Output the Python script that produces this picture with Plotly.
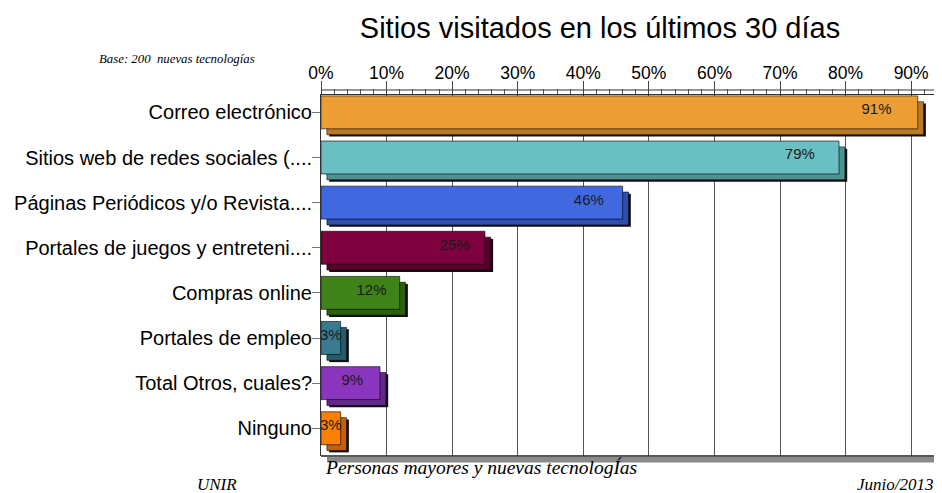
import plotly.graph_objects as go

# ── datos ──
categorias = [
    "Correo electrónico",
    "Sitios web de redes sociales (....",
    "Páginas Periódicos y/o Revista....",
    "Portales de juegos y entreteni....",
    "Compras online",
    "Portales de empleo",
    "Total Otros, cuales?",
    "Ninguno",
]
porcentajes = [91, 79, 46, 25, 12, 3, 9, 3]
colores = ["#EC9E35", "#69BFC1", "#4069E0", "#7F003F",
           "#3F8219", "#387A90", "#8A35BD", "#FF8000"]
colores_lado = ["#B87A28", "#4D9193", "#2E4FAD", "#58002B",
                "#2D5F11", "#275A6B", "#65268C", "#C46100"]
ticks_x = [0, 10, 20, 30, 40, 50, 60, 70, 80, 90]

SANS = "Liberation Sans, Arial, sans-serif"
SERIF = "Liberation Serif, Times New Roman, serif"

# la página tiene ~8px de margen en el body
W, H = 934, 485
L, T, PW, PH = 313, 87, 619, 361

pos = list(range(len(categorias)))
ANCHO = 0.73
OFF = -0.48
DX, DY = 0.9, 0.13        # profundidad 3D
SX, SY = 1.25, 0.17       # sombra negra
centro = [p + OFF + ANCHO / 2 for p in pos]   # centro de la cara frontal

fig = go.Figure()

# sombra
fig.add_trace(go.Bar(
    x=porcentajes, y=pos, base=SX, orientation="h",
    width=ANCHO, offset=OFF + SY,
    marker=dict(color="#111", line=dict(width=0)),
    hoverinfo="skip",
))
# cara lateral / inferior
fig.add_trace(go.Bar(
    x=porcentajes, y=pos, base=DX, orientation="h",
    width=ANCHO, offset=OFF + DY,
    marker=dict(color=colores_lado, line=dict(width=1, color="rgba(0,0,0,0.55)")),
    hoverinfo="skip",
))
# cara frontal
fig.add_trace(go.Bar(
    x=porcentajes, y=pos, orientation="h",
    width=ANCHO, offset=OFF,
    marker=dict(color=colores, line=dict(width=1, color="rgba(0,0,0,0.6)")),
))
# etiquetas de valor
fig.add_trace(go.Scatter(
    x=[max(v * 0.975 - 4, v / 2) for v in porcentajes],
    y=[c - 0.04 for c in centro],
    mode="text",
    text=[f"{v}%" for v in porcentajes],
    textfont=dict(family=SANS, size=15, color="#1a1a1a"),
    hoverinfo="skip",
))

fig.update_layout(
    width=W, height=H,
    margin=dict(l=L, r=W - L - PW, t=T, b=H - T - PH),
    paper_bgcolor="white", plot_bgcolor="white",
    barmode="overlay", showlegend=False,
    title=dict(text="Sitios visitados en los últimos 30 días",
               x=592 / W, xanchor="center", y=1 - 20 / H, yanchor="middle",
               font=dict(family=SANS, size=29, color="#000")),
    xaxis=dict(
        side="top", range=[0, 94.4],
        tickvals=ticks_x, ticktext=[f"{t}%" for t in ticks_x],
        ticks="outside", ticklen=13, tickcolor="#444", tickwidth=1,
        minor=dict(dtick=2, ticks="outside", ticklen=5, tickcolor="#555", showgrid=False),
        showline=True, linecolor="#333", linewidth=1,
        showgrid=True, gridcolor="#555", gridwidth=1,
        zeroline=False, ticklabelstandoff=-5,
        tickfont=dict(family=SANS, size=17.5, color="#000"),
    ),
    yaxis=dict(
        range=[7.5, -0.5],
        tickvals=centro, ticktext=categorias,
        ticks="outside", ticklen=8, tickcolor="#777",
        showline=True, linecolor="#333", linewidth=1,
        showgrid=False, zeroline=False, ticklabelstandoff=-4,
        tickfont=dict(family=SANS, size=20, color="#000"),
    ),
)

# línea superior extra del eje y suelo gris
fig.add_shape(type="line", xref="paper", yref="paper",
              x0=0, x1=1, y0=1 + 5 / PH, y1=1 + 5 / PH,
              line=dict(color="#333", width=1))
fig.add_shape(type="line", xref="paper", yref="paper",
              x0=0, x1=1, y0=0, y1=0, line=dict(color="#222", width=1.5))
fig.add_shape(type="rect", xref="paper", yref="paper",
              x0=6 / PW, x1=1, y0=-6.5 / PH, y1=-1 / PH,
              fillcolor="#8a8a8a", line=dict(width=0))

# textos (coordenadas de la imagen de referencia)
notas = [
    ("<i>Base: 200  nuevas tecnologías</i>", 97, 59, "left", 12.8),
    ("<i>Personas mayores y nuevas tecnologÍas</i>", 323, 468, "left", 19.5),
    ("<i>UNIR</i>", 195, 484, "left", 17),
    ("<i>Junio/2013</i>", 936, 484, "right", 17),
]
for txt, px, py, anc, sz in notas:
    fig.add_annotation(text=txt, xref="paper", yref="paper",
                       x=(px - 8 - L) / PW, y=(T + PH - (py - 8)) / PH,
                       xanchor=anc, yanchor="middle", showarrow=False,
                       font=dict(family=SERIF, size=sz, color="#000"))

fig.write_html("out.html")
